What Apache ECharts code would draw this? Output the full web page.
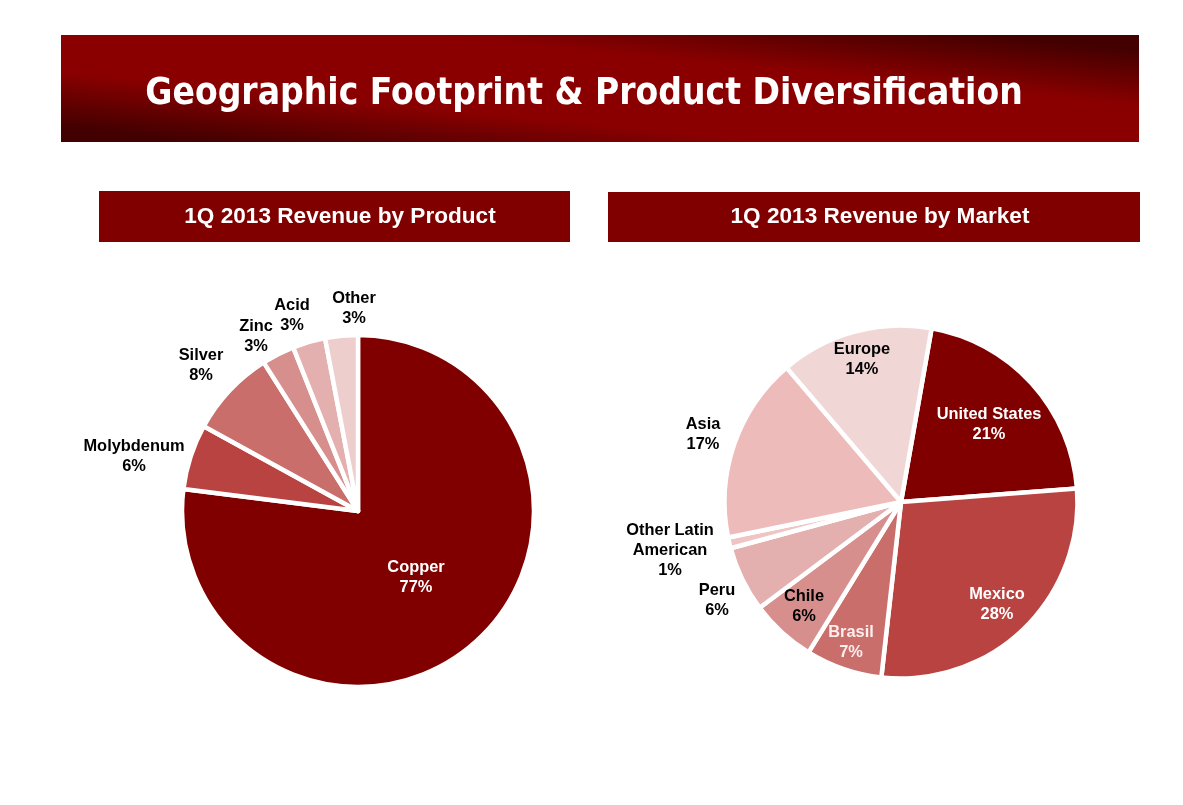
<!DOCTYPE html>
<html>
<head>
  <meta charset="utf-8">
  <title>Geographic Footprint & Product Diversification</title>
  <script src="https://cdn.jsdelivr.net/npm/echarts@6/dist/echarts.min.js"></script>
  <style>
    html, body { margin: 0; padding: 0; background: #fff; }
    #main { width: 1183px; height: 805px; }
  </style>
</head>
<body>
  <div id="main"></div>
  <script type="text/javascript">
    var productNames = ['Copper', 'Molybdenum', 'Silver', 'Zinc', 'Acid', 'Other'];
    var productValues = [77, 6, 8, 3, 3, 3];
    var marketNames = ['United States', 'Mexico', 'Brasil', 'Chile', 'Peru', 'Other Latin\nAmerican', 'Asia', 'Europe'];
    var marketValues = [21, 28, 7, 6, 6, 1, 17, 14];

    var productColors = ['#800000', '#b94340', '#c96e6b', '#d68f8d', '#e3b0af', '#eecdcd'];
    var marketColors = ['#800000', '#b94340', '#c96e6b', '#d68f8d', '#e3b0af', '#eec4c4', '#eebbbb', '#f1d6d6'];
    var productLabelColors = ['#fff', '#000', '#000', '#000', '#000', '#000'];
    var marketLabelColors = ['#fff', '#fff', '#fbeeee', '#000', '#000', '#000', '#000', '#000'];

    // label centres, placed by hand as in the slide
    var productLabelPos = [[416, 577], [134, 456], [201, 365], [256, 336], [292, 315], [354, 308]];
    var marketLabelPos = [[989, 424], [997, 604], [851, 642], [804, 606], [717, 600], [670, 550], [703, 434], [862, 359]];

    function buildPie(names, values, colors, labelColors, labelPos, center, radius, startAngle) {
      return {
        type: 'pie',
        center: center,
        radius: radius,
        startAngle: startAngle,
        clockwise: true,
        animation: false,
        silent: true,
        avoidLabelOverlap: false,
        itemStyle: { borderColor: '#fff', borderWidth: 4.5 },
        label: {
          show: true,
          position: 'outside',
          formatter: '{b}\n{c}%',
          fontFamily: '"Liberation Sans", Arial, sans-serif',
          fontWeight: 'bold',
          fontSize: 16.4,
          lineHeight: 20
        },
        labelLine: { show: false },
        labelLayout: function (params) {
          var p = labelPos[params.dataIndex];
          return { x: p[0], y: p[1], align: 'center', verticalAlign: 'middle' };
        },
        data: names.map(function (n, i) {
          return {
            name: n,
            value: values[i],
            itemStyle: { color: colors[i] },
            label: { color: labelColors[i] }
          };
        })
      };
    }

    // dark corners top right and bottom left, bands run along the banner diagonal
    var bannerFill = {
      type: 'linear', global: true,
      x: 589.5, y: 194.5, x2: 610.5, y2: -17.5,
      colorStops: [
        { offset: 0.07, color: '#430000' },
        { offset: 0.33, color: '#8a0000' },
        { offset: 0.67, color: '#8a0000' },
        { offset: 0.93, color: '#430000' }
      ]
    };

    var myChart = echarts.init(document.getElementById('main'));
    myChart.setOption({
      backgroundColor: '#fff',
      animation: false,
      title: [
        {
          text: 'Geographic Footprint & Product Diversification',
          left: 584, top: 94, padding: 0, textAlign: 'center', textVerticalAlign: 'middle',
          textStyle: { color: '#fff', fontFamily: '"DejaVu Sans Condensed", "DejaVu Sans", sans-serif', fontWeight: 'bold', fontSize: 36.8 }
        },
        {
          text: '1Q 2013 Revenue by Product',
          left: 340, top: 217, padding: 0, textAlign: 'center', textVerticalAlign: 'middle',
          textStyle: { color: '#fff', fontFamily: '"Liberation Sans", Arial, sans-serif', fontWeight: 'bold', fontSize: 22.6 }
        },
        {
          text: '1Q 2013 Revenue by Market',
          left: 880, top: 217, padding: 0, textAlign: 'center', textVerticalAlign: 'middle',
          textStyle: { color: '#fff', fontFamily: '"Liberation Sans", Arial, sans-serif', fontWeight: 'bold', fontSize: 22.6 }
        }
      ],
      graphic: [
        { type: 'rect', z: 0, shape: { x: 61, y: 35, width: 1078, height: 107 }, style: { fill: bannerFill } },
        { type: 'rect', z: 0, shape: { x: 99, y: 191, width: 471, height: 51 }, style: { fill: '#800000' } },
        { type: 'rect', z: 0, shape: { x: 608, y: 192, width: 532, height: 50 }, style: { fill: '#800000' } }
      ],
      series: [
        buildPie(productNames, productValues, productColors, productLabelColors, productLabelPos, [358, 511], 176, 90),
        buildPie(marketNames, marketValues, marketColors, marketLabelColors, marketLabelPos, [901, 502], 176.5, 80)
      ]
    });
  </script>
</body>
</html>
